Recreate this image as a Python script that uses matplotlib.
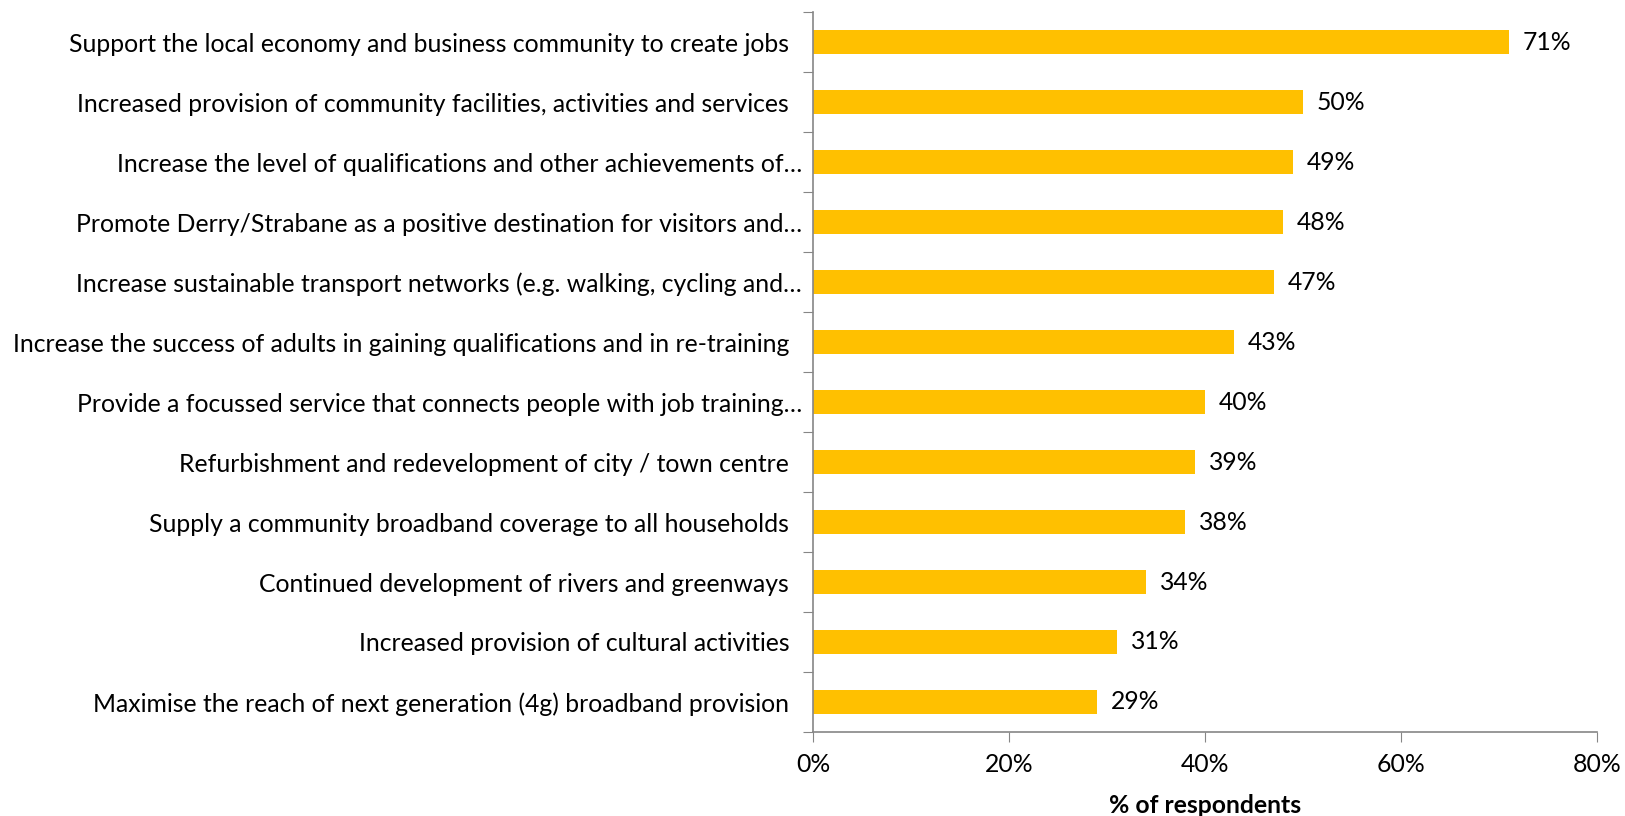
import matplotlib.pyplot as plt
from matplotlib.ticker import FuncFormatter

plt.rcParams['font.family'] = ['Lato', 'DejaVu Sans']

# 问卷结果：各项优先事项的支持比例
categories = [
    "Support the local economy and business community to create jobs  ",
    "Increased provision of community facilities, activities and services  ",
    "Increase the level of qualifications and other achievements of…",
    "Promote Derry/Strabane as a positive destination for visitors and…",
    "Increase sustainable transport networks (e.g. walking, cycling and…",
    "Increase the success of adults in gaining qualifications and in re-training  ",
    "Provide a focussed service that connects people with job training…",
    "Refurbishment and redevelopment of city / town centre  ",
    "Supply a community broadband coverage to all households  ",
    "Continued development of rivers and greenways  ",
    "Increased provision of cultural activities  ",
    "Maximise the reach of next generation (4g) broadband provision  ",
]
values = [71, 50, 49, 48, 47, 43, 40, 39, 38, 34, 31, 29]
xticks = [0, 20, 40, 60, 80]

bar_color = '#FFC000'
axis_color = '#868686'
fs = 17.8

fig = plt.figure(figsize=(16.25, 8.16), dpi=100)
ax = fig.add_axes([0.5003, 0.103, 0.4825, 0.882])

n = len(categories)
ypos = list(range(n))[::-1]
ax.barh(ypos, values, height=0.4, color=bar_color)

for y, v in zip(ypos, values):
    ax.text(v + 1.4, y, f"{v}%", va='center', ha='left', fontsize=fs)

ax.set_xlim(0, 80)
ax.set_ylim(-0.5, n - 0.5)
ax.set_xticks(xticks)
ax.xaxis.set_major_formatter(FuncFormatter(lambda x, p: f"{x:.0f}%"))
ax.tick_params(axis='x', labelsize=fs, length=7, color=axis_color, pad=8)

# y轴刻度放在类别之间，标签放在中间
ax.set_yticks([i - 0.5 for i in range(n + 1)])
ax.set_yticklabels([])
ax.set_yticks(ypos, minor=True)
ax.set_yticklabels(categories, minor=True, fontsize=fs)
ax.tick_params(axis='y', which='major', length=7, color=axis_color)
ax.tick_params(axis='y', which='minor', length=0, pad=8)

for s in ['top', 'right']:
    ax.spines[s].set_visible(False)
for s in ['left', 'bottom']:
    ax.spines[s].set_color(axis_color)
    ax.spines[s].set_linewidth(1.2)

ax.set_xlabel('% of respondents', fontsize=fs, fontweight='bold', labelpad=13)

fig.savefig('out.png', dpi=100)
